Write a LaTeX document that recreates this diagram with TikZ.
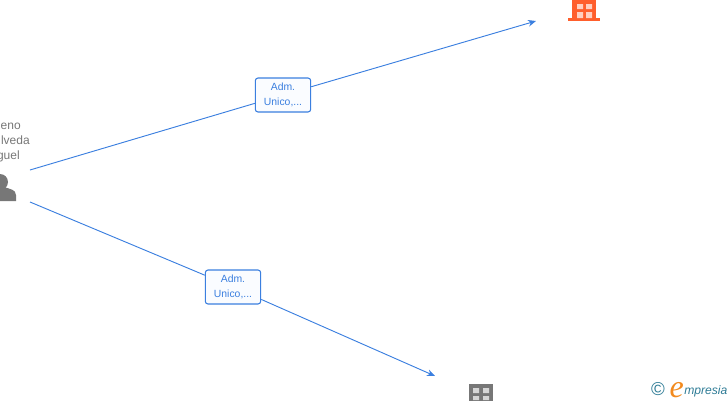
\documentclass[tikz,border=0pt]{standalone}
\usepackage{fontspec}
\setmainfont{Liberation Sans}
\newfontfamily\logoserif{Liberation Serif}
\usepackage{tikz}
\usetikzlibrary{arrows.meta,positioning}
\definecolor{linkblue}{HTML}{3B7FDF}
\definecolor{boxfill}{HTML}{FAFCFF}
\definecolor{peoplegray}{HTML}{777777}
\definecolor{firmorange}{HTML}{FF5E2C}
\definecolor{logoteal}{HTML}{2F7C96}
\definecolor{logoorange}{HTML}{F28A1E}

\begin{document}
\begin{tikzpicture}[
    x=0.75pt, y=-0.75pt,
    rolebox/.style={rectangle, rounded corners=2pt, minimum width=41.5pt, minimum height=25.5pt, inner sep=0pt, text centered, draw=linkblue, line width=0.8pt, fill=boxfill, text=linkblue, font=\fontsize{7.8}{11.25}\selectfont, align=center},
    namepart/.style={inner sep=0pt, anchor=base east, text=peoplegray, font=\fontsize{9}{10}\selectfont},
    firm/.style={rectangle, inner sep=0pt, minimum width=18pt, minimum height=14pt},
    arrow/.style={-{Stealth[length=6pt,width=5pt]},draw=linkblue,line width=0.7pt},
    link/.style={draw=linkblue,line width=0.7pt}
]

\clip (0,0) rectangle (728,400);

% persona
\node (nameA) [namepart] at (21,129) {eno};
\node (nameB) [namepart] at (30,144) {lveda};
\node (nameC) [namepart] at (20,159) {guel};
\node (person) [circle, fill=peoplegray, inner sep=0pt, minimum size=12pt] at (0,182) {};
\fill [peoplegray] (-16,201) -- (-16,195) to[out=90,in=200] (-3,187) -- (4,187) to[out=-20,in=90] (16,195) -- (16,201) -- cycle;

% empresa de arriba
\node (firmA) [firm, fill=firmorange, anchor=south] at (584,18) {};
\node (firmAbase) [rectangle, fill=firmorange, inner sep=0pt, minimum width=24pt, minimum height=2.2pt, below=0pt of firmA] {};
\fill [white!70!firmorange] (577,4) rectangle (583,9) (586,4) rectangle (592,9) (577,12) rectangle (583,18) (586,12) rectangle (592,18);

% empresa de abajo
\node (firmB) [firm, fill=peoplegray, anchor=north] at (481,384) {};
\fill [white!70!peoplegray] (473,388) rectangle (479,393) (483,388) rectangle (489,393) (473,396) rectangle (479,400) (483,396) rectangle (489,400);

% cargos
\node (roleA) [rolebox] at (283,95) {Adm.\\Unico,...};
\node (roleB) [rolebox] at (233,287) {Adm.\\Unico,...};

% puntos libres
\coordinate (outA) at (30,170);
\coordinate (outB) at (30,202);
\coordinate (inA) at (536,21);
\coordinate (inB) at (435,376);

% flechas
\draw [link] (outA) -- (roleA);
\draw [arrow] (roleA) -- (inA);
\draw [link] (outB) -- (roleB);
\draw [arrow] (roleB) -- (inB);

% logo
\node (copy) [inner sep=0pt, text=logoteal, font=\fontsize{14}{14}\selectfont] at (658,389) {©};
\node (logoE) [inner sep=0pt, text=logoorange, font=\logoserif\fontsize{24}{24}\selectfont\itshape, anchor=base east] at (684,397) {e};
\node (logoText) [inner sep=0pt, text=logoteal, font=\fontsize{9.1}{11}\selectfont\itshape, anchor=base west] at (684,394) {mpresia};

\end{tikzpicture}
\end{document}
